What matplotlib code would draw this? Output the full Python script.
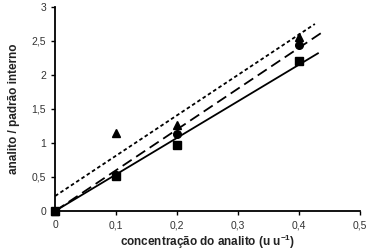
import matplotlib
matplotlib.use("Agg")
import matplotlib.pyplot as plt
import numpy as np

plt.rcParams['font.family'] = ['Liberation Sans', 'DejaVu Sans']
plt.rcParams['mathtext.fontset'] = 'custom'
plt.rcParams['mathtext.rm'] = 'Liberation Sans:bold'
plt.rcParams['mathtext.bf'] = 'Liberation Sans:bold'
plt.rcParams['mathtext.default'] = 'bf'

x = [0.0, 0.1, 0.2, 0.4]
tri = [0.0, 1.15, 1.26, 2.56]
circ = [0.0, 0.53, 1.13, 2.44]
sq = [0.0, 0.52, 0.97, 2.20]

# fitted lines: (intercept, slope, x_end)
line_solid = (0.0, 5.38, 0.431)
line_dash = (0.0, 6.0, 0.438)
line_dot = (0.22, 5.94, 0.426)

xticks = [0, 0.1, 0.2, 0.3, 0.4, 0.5]
xticklabels = ['0', '0,1', '0,2', '0,3', '0,4', '0,5']
yticks = [0, 0.5, 1, 1.5, 2, 2.5, 3]
yticklabels = ['0', '0,5', '1', '1,5', '2', '2,5', '3']

fig = plt.figure(figsize=(3.7, 2.5), dpi=100)
ax = fig.add_axes([0.149, 0.156, 0.824, 0.816])

def draw_line(p, **kw):
    b, m, xe = p
    xs = np.array([0.0, xe])
    ax.plot(xs, b + m * xs, color='black', **kw)

draw_line(line_solid, lw=1.3, ls='-')
draw_line(line_dash, lw=1.3, ls=(0, (6, 3)))
draw_line(line_dot, lw=1.3, ls=(0, (2, 1.5)))

ax.plot(x, tri, '^', color='black', ms=5.5, ls='none', clip_on=False)
ax.plot(x, circ, 'o', color='black', ms=5.5, ls='none', clip_on=False)
ax.plot(x, sq, 's', color='black', ms=5.5, ls='none', clip_on=False)

ax.set_xlim(0, 0.5)
ax.set_ylim(0, 3)
ax.set_xticks(xticks)
ax.set_xticklabels(xticklabels)
ax.set_yticks(yticks)
ax.set_yticklabels(yticklabels)
ax.spines['top'].set_visible(False)
ax.spines['right'].set_visible(False)
for s in ['left', 'bottom']:
    ax.spines[s].set_linewidth(1.3)
ax.tick_params(direction='out', length=3, width=1, labelsize=7.5, colors='black', labelcolor='#333333')
ax.set_xlabel('concentração do analito (u u$^{-1}$)', fontsize=8.5, fontweight='bold', color='#222222', labelpad=2)
ax.set_ylabel('analito / padrão interno', fontsize=8.5, fontweight='bold', color='#222222', labelpad=8)

fig.savefig('out.png', dpi=100)
